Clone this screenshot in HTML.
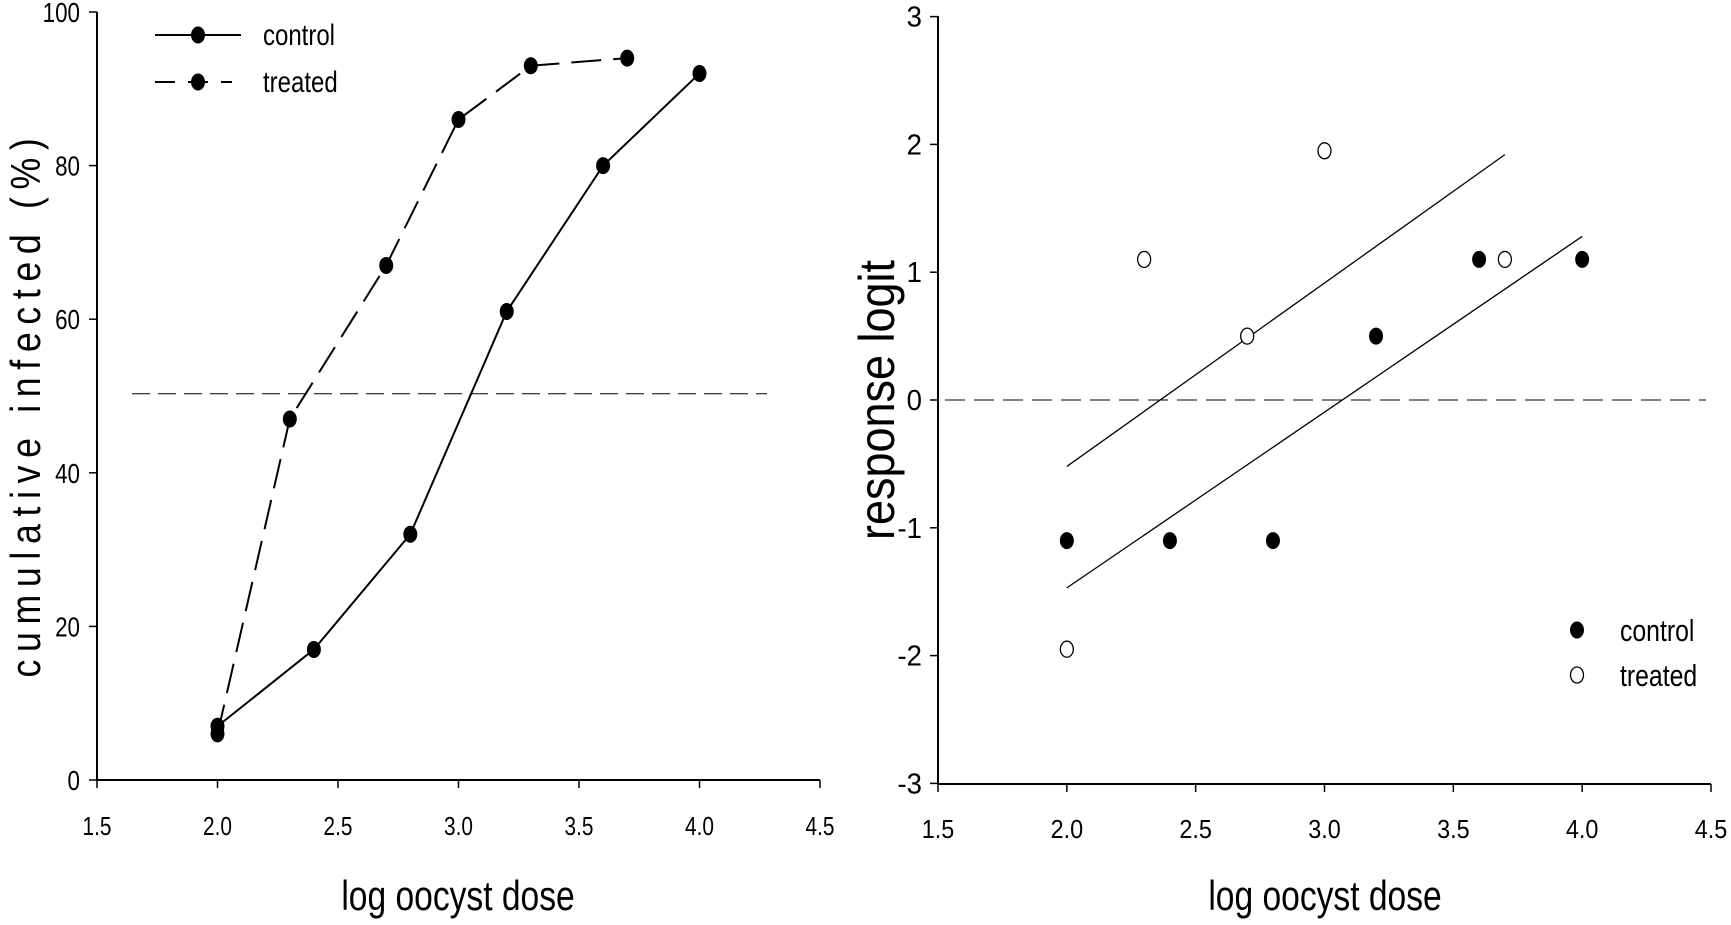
<!DOCTYPE html>
<html><head><meta charset="utf-8"><style>
html,body{margin:0;padding:0;background:#fff;}
svg{display:block;}
text{font-family:"Liberation Sans",sans-serif;fill:#000;}
</style></head><body>
<svg id="chart" width="1731" height="925" viewBox="0 0 1731 925"></svg>
<script>
const xTicks=[1.5,2.0,2.5,3.0,3.5,4.0,4.5];
const xTickLabels=["1.5","2.0","2.5","3.0","3.5","4.0","4.5"];
const leftYTicks=[0,20,40,60,80,100];
const leftYTickLabels=["0","20","40","60","80","100"];
const leftControlX=[2.0,2.4,2.8,3.2,3.6,4.0];
const leftControlY=[7,17,32,61,80,92];
const leftTreatedX=[2.0,2.3,2.7,3.0,3.3,3.7];
const leftTreatedY=[6,47,67,86,93,94];
const leftRefY=[50.3];
const rightYTicks=[-3,-2,-1,0,1,2,3];
const rightYTickLabels=["-3","-2","-1","0","1","2","3"];
const rightControlX=[2.0,2.4,2.8,3.2,3.6,4.0];
const rightControlY=[-1.1,-1.1,-1.1,0.5,1.1,1.1];
const rightTreatedX=[2.0,2.3,2.7,3.0,3.7];
const rightTreatedY=[-1.95,1.1,0.5,1.95,1.1];
const fitTreatedX=[2.0,3.7];
const fitTreatedY=[-0.52,1.92];
const fitControlX=[2.0,4.0];
const fitControlY=[-1.47,1.28];

const NS="http://www.w3.org/2000/svg";
const svg=document.getElementById('chart');
function mk(tag,attrs,parent){const e=document.createElementNS(NS,tag);for(const k in attrs)e.setAttribute(k,attrs[k]);(parent||svg).appendChild(e);return e;}
function txt(parent,x,y,str,size,anchor,sx,rot){
  const e=mk('text',{x:0,y:0,'font-size':size,'text-anchor':anchor||'start',transform:'translate('+x+','+y+')'+(rot?' rotate('+rot+')':'')+' scale('+(sx||1)+',1)'},parent);
  e.textContent=str;return e;
}

const lx=v=>97+(v-1.5)*(820-97)/3;
const ly=v=>780-v*(780-12)/100;
const rx=v=>938+(v-1.5)*(1711-938)/3;
const ry=v=>400-v*127.8;
const N=0.8;

// ---- left panel
const gL=mk('g',{});


let ax=mk('line',{x1:97,y1:12,x2:97,y2:780,stroke:'#000','stroke-width':2},gL);

ax=mk('line',{x1:97,y1:780,x2:820,y2:780,stroke:'#000','stroke-width':2},gL);

xTicks.forEach((t,i)=>{
  mk('line',{x1:lx(t),y1:780,x2:lx(t),y2:788,stroke:'#000','stroke-width':1.5},gL);
  const tx=txt(gL,lx(t),835,xTickLabels[i],26,'middle',N);
  
  
});
leftYTicks.forEach((t,i)=>{
  mk('line',{x1:89,y1:ly(t),x2:97,y2:ly(t),stroke:'#000','stroke-width':1.5},gL);
  const tx=txt(gL,80,ly(t)+10,leftYTickLabels[i],28,'end',N);
  
  
});
let rl=mk('line',{x1:132,y1:ly(leftRefY[0]),x2:lx(4.28),y2:ly(leftRefY[0]),stroke:'#000','stroke-width':1,'stroke-dasharray':'18,8'},gL);

let p=mk('polyline',{points:leftControlX.map((x,i)=>lx(x)+','+ly(leftControlY[i])).join(' '),fill:'none',stroke:'#000','stroke-width':2},gL);

p=mk('polyline',{points:leftTreatedX.map((x,i)=>lx(x)+','+ly(leftTreatedY[i])).join(' '),fill:'none',stroke:'#000','stroke-width':2,'stroke-dasharray':'30,12'},gL);

leftControlX.forEach((x,i)=>{const c=mk('ellipse',{cx:lx(x),cy:ly(leftControlY[i]),rx:7,ry:8.5,fill:'#000'},gL);
});
leftTreatedX.forEach((x,i)=>{const c=mk('ellipse',{cx:lx(x),cy:ly(leftTreatedY[i]),rx:7,ry:8.5,fill:'#000'},gL);
});
const lg=mk('g',{},gL);

mk('line',{x1:155,y1:35,x2:241,y2:35,stroke:'#000','stroke-width':2},lg);
mk('ellipse',{cx:198,cy:35,rx:7,ry:8.5,fill:'#000'},lg);
let t=txt(lg,263,45,'control',30,'start',N);

mk('line',{x1:155,y1:82,x2:232,y2:82,stroke:'#000','stroke-width':2,'stroke-dasharray':'20,13'},lg);
mk('ellipse',{cx:198,cy:82,rx:7,ry:8.5,fill:'#000'},lg);
t=txt(lg,263,92,'treated',30,'start',N);

t=mk('text',{x:0,y:0,'font-size':42,'text-anchor':'middle','letter-spacing':'9',transform:'translate(40,404) rotate(-90) scale(0.85,1)'},gL);
t.textContent='cumulative infected (%)';

t=txt(gL,458,910,'log oocyst dose',42,'middle',N);


// ---- right panel
const gR=mk('g',{});


ax=mk('line',{x1:938,y1:16,x2:938,y2:784,stroke:'#000','stroke-width':2},gR);

ax=mk('line',{x1:938,y1:784,x2:1711,y2:784,stroke:'#000','stroke-width':2},gR);

xTicks.forEach((v,i)=>{
  mk('line',{x1:rx(v),y1:784,x2:rx(v),y2:792,stroke:'#000','stroke-width':1.5},gR);
  const tx=txt(gR,rx(v),838,xTickLabels[i],26,'middle',0.9);
  
  
});
rightYTicks.forEach((v,i)=>{
  mk('line',{x1:930,y1:ry(v),x2:938,y2:ry(v),stroke:'#000','stroke-width':1.5},gR);
  const tx=txt(gR,922,ry(v)+10,rightYTickLabels[i],29,'end',0.95);
  
  
});
rl=mk('line',{x1:945,y1:ry(0),x2:1706,y2:ry(0),stroke:'#000','stroke-width':1,'stroke-dasharray':'20,9'},gR);

let f=mk('line',{x1:rx(fitTreatedX[0]),y1:ry(fitTreatedY[0]),x2:rx(fitTreatedX[1]),y2:ry(fitTreatedY[1]),stroke:'#000','stroke-width':1.3},gR);

f=mk('line',{x1:rx(fitControlX[0]),y1:ry(fitControlY[0]),x2:rx(fitControlX[1]),y2:ry(fitControlY[1]),stroke:'#000','stroke-width':1.3},gR);

rightControlX.forEach((x,i)=>{const c=mk('ellipse',{cx:rx(x),cy:ry(rightControlY[i]),rx:7,ry:8.5,fill:'#000'},gR);
});
rightTreatedX.forEach((x,i)=>{const c=mk('ellipse',{cx:rx(x),cy:ry(rightTreatedY[i]),rx:6.5,ry:8,fill:'#fff',stroke:'#000','stroke-width':1.3},gR);
});
const rg=mk('g',{},gR);

mk('ellipse',{cx:1577,cy:630,rx:7,ry:8.5,fill:'#000'},rg);
t=txt(rg,1620,641,'control',31,'start',N);

mk('ellipse',{cx:1577,cy:675,rx:6.5,ry:8,fill:'#fff',stroke:'#000','stroke-width':1.3},rg);
t=txt(rg,1620,686,'treated',31,'start',N);

t=txt(gR,894,400,'response logit',50,'middle',0.9,-90);

t=txt(gR,1325,910,'log oocyst dose',42,'middle',N);

</script>
</body></html>
